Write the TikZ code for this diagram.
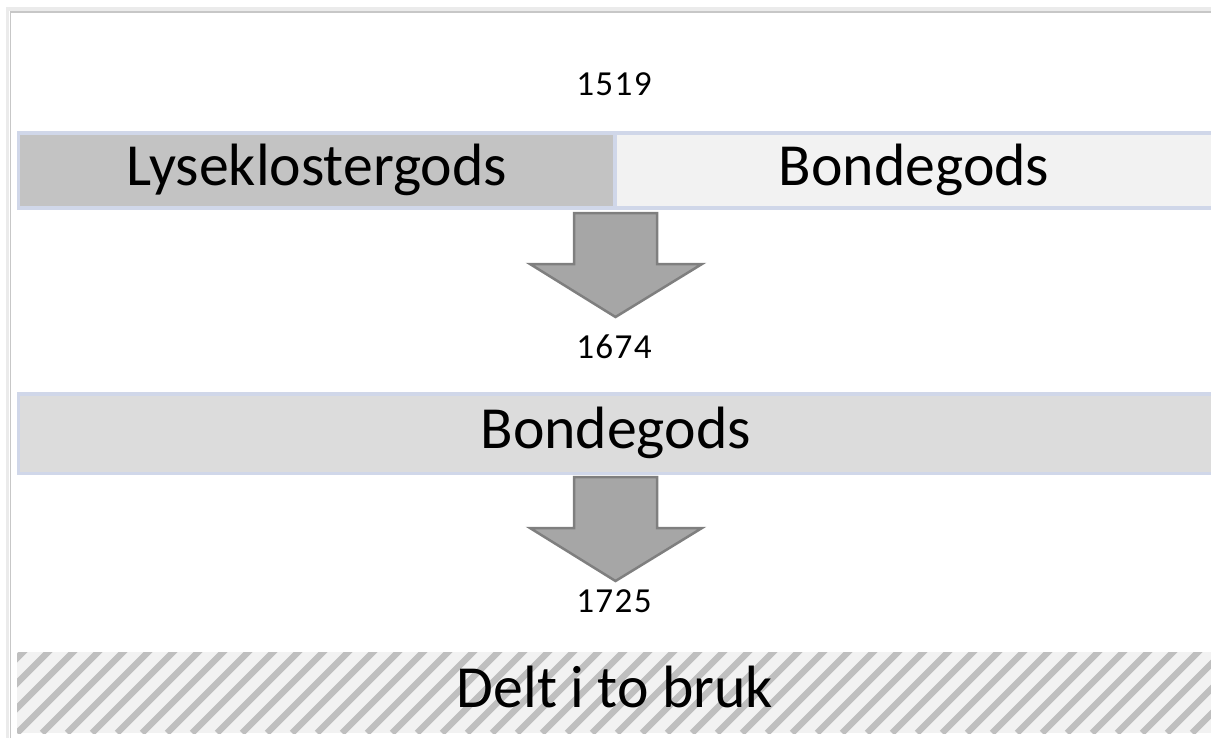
\documentclass[tikz,border=0pt]{standalone}
\usepackage{fontspec}
\setmainfont{Carlito}
\usetikzlibrary{calc}

\definecolor{boxline}{HTML}{D0D7E9}
\definecolor{darkfill}{HTML}{C3C3C3}
\definecolor{lightfill}{HTML}{F2F2F2}
\definecolor{midfill}{HTML}{DCDCDC}
\definecolor{stripe}{HTML}{BFBFBF}
\definecolor{arrowfill}{HTML}{A6A6A6}
\definecolor{arrowline}{HTML}{7F7F7F}

\begin{document}
\begin{tikzpicture}[x=0.02cm,y=-0.02cm,
        gods/.style={draw=boxline,line width=0.07cm,inner sep=0pt,text height=0.84cm,text depth=0.24cm,
          font=\fontsize{34}{40}\selectfont},
        year/.style={inner sep=0pt,font=\fontsize{20}{24}\selectfont\addfontfeature{LetterSpace=4}},
        blockarrow/.style={fill=arrowfill,draw=arrowline,line width=0.05cm,line join=miter},
        stripes/.style={path picture={
            \foreach \i in {-100,-75,...,1225}
              \draw[stripe,line width=0.125cm] ($(path picture bounding box.south west)+(\i,0)$) -- ++(100,-100);
          }}]

        \useasboundingbox (0,0) rectangle (1211,738);

        % frame shadow
        \draw[black!8,line width=0.08cm] (7.5,738) -- (7.5,8.5) -- (1211,8.5);
        \draw[black!22,line width=0.04cm] (10.5,738) -- (10.5,11.5) -- (1211,11.5);

        \node[year,anchor=base] (y1519) at (614,95) {1519};

        \node[gods,fill=darkfill,minimum width=11.93cm,minimum height=1.51cm] at (316.75,170.5) (kloster) {Lyseklostergods};
        \node[gods,fill=lightfill,minimum width=11.96cm,minimum height=1.51cm] at (914,170.5) (bonde1) {Bondegods};

        \node[year,anchor=base] (y1674) at (614,358) {1674};

        \node[gods,fill=midfill,minimum width=23.89cm,minimum height=1.59cm] at (615.75,433.5) (bonde2) {Bondegods};

        \node[year,anchor=base] (y1725) at (614,612) {1725};

        \node[gods,draw=none,fill=lightfill,stripes,minimum width=23.92cm,minimum height=1.62cm] at (615,692.5) (delt) {Delt i to bruk};

        % arrows
        \foreach \t in {213,477}
          \draw[blockarrow] (574,\t) -- (657,\t) -- (657,\t+51) -- (702,\t+51) -- (615.5,\t+104)
            -- (530,\t+51) -- (574,\t+51) -- cycle;

      \end{tikzpicture}
\end{document}
